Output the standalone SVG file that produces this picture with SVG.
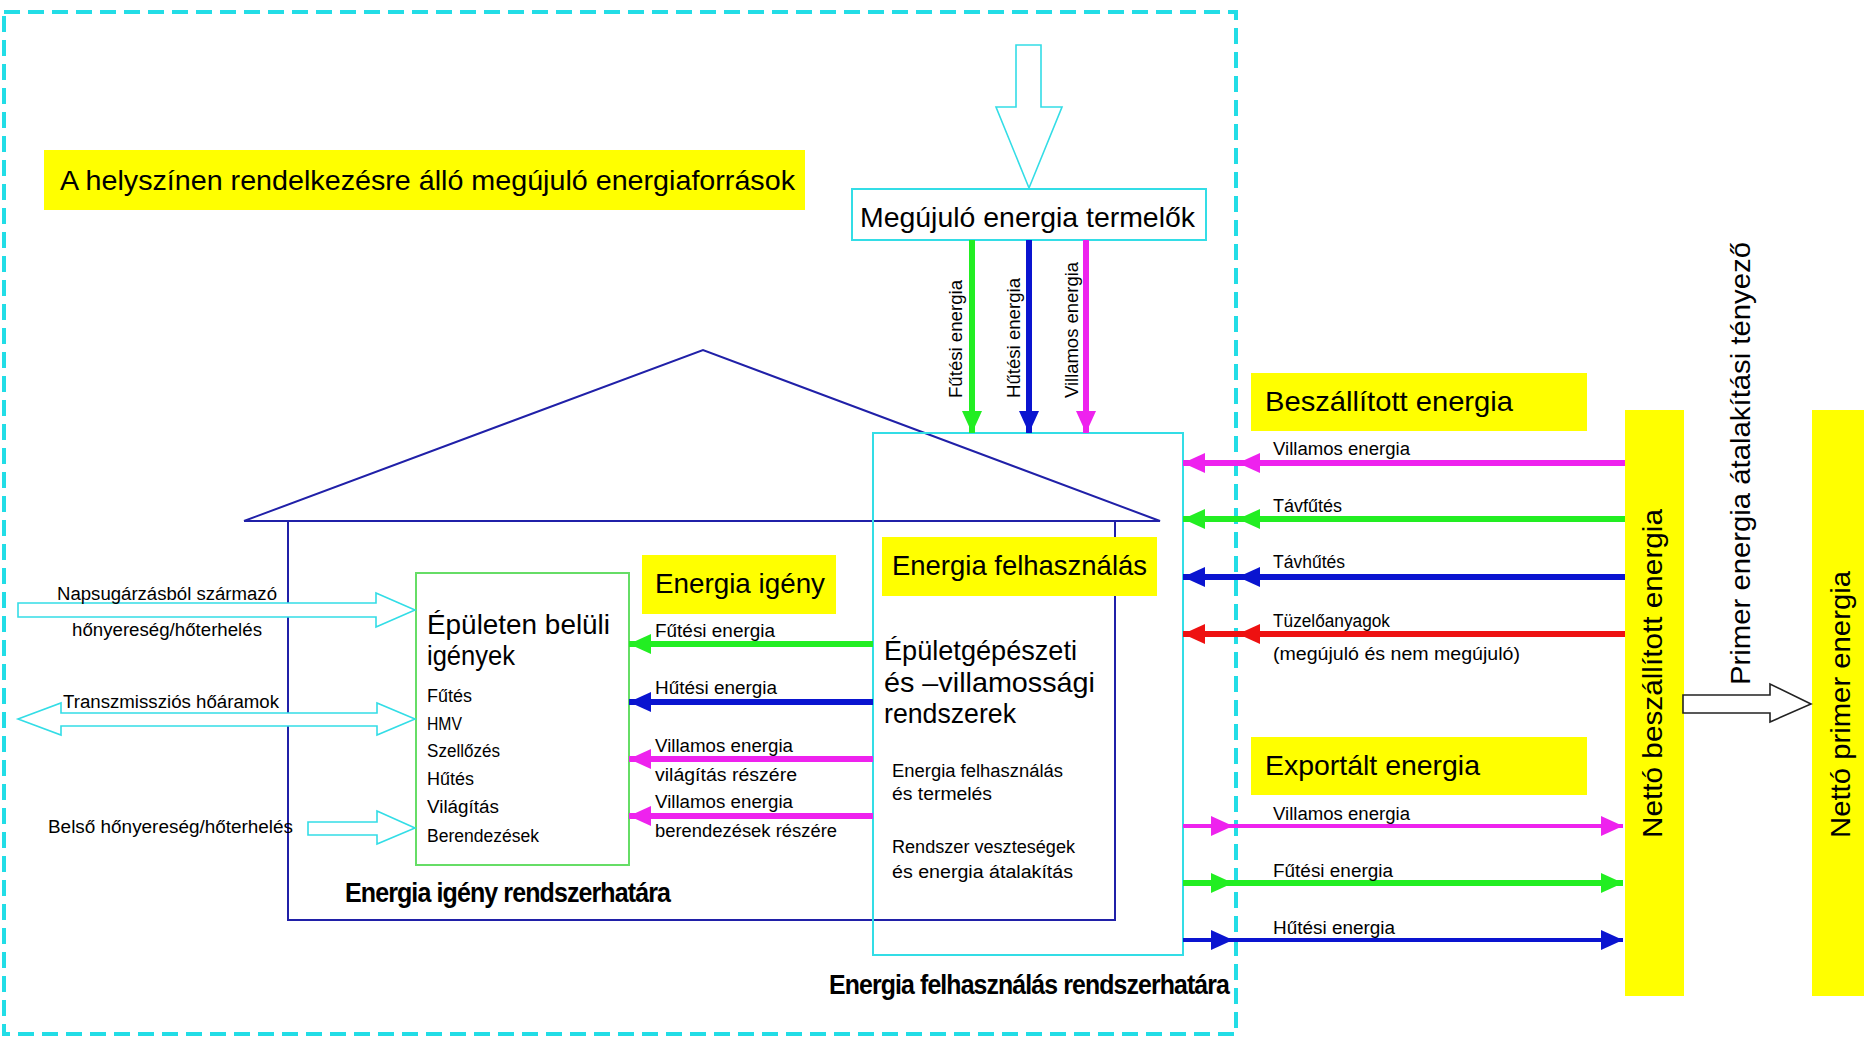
<svg xmlns="http://www.w3.org/2000/svg" width="1864" height="1038" viewBox="0 0 1864 1038">
<defs>
<style>
text{font-family:"Liberation Sans","DejaVu Sans",sans-serif;fill:#000}
.big{font-size:28px}
.sm{font-size:18px}
.bold{font-size:28px;font-weight:bold;letter-spacing:-1px}
.yel{fill:#ffff00;stroke:none}
.cy{fill:none;stroke:#33dde6;stroke-width:2}
.hollow{fill:#fff;stroke:#33dde6;stroke-width:1.6}
.house{fill:none;stroke:#2020a8;stroke-width:2}
.g{stroke:#22ee22;stroke-width:6;fill:none}
.b{stroke:#0a14d0;stroke-width:6;fill:none}
.m{stroke:#ee22ee;stroke-width:6;fill:none}
.r{stroke:#ee1111;stroke-width:6;fill:none}
</style>
<marker id="ag" viewBox="0 0 22 20" refX="22" refY="10" markerWidth="22" markerHeight="20" markerUnits="userSpaceOnUse" orient="auto"><path d="M0,0 L22,10 L0,20 z" fill="#22ee22"/></marker>
<marker id="ab" viewBox="0 0 22 20" refX="22" refY="10" markerWidth="22" markerHeight="20" markerUnits="userSpaceOnUse" orient="auto"><path d="M0,0 L22,10 L0,20 z" fill="#0a14d0"/></marker>
<marker id="am" viewBox="0 0 22 20" refX="22" refY="10" markerWidth="22" markerHeight="20" markerUnits="userSpaceOnUse" orient="auto"><path d="M0,0 L22,10 L0,20 z" fill="#ee22ee"/></marker>
<marker id="ar" viewBox="0 0 22 20" refX="22" refY="10" markerWidth="22" markerHeight="20" markerUnits="userSpaceOnUse" orient="auto"><path d="M0,0 L22,10 L0,20 z" fill="#ee1111"/></marker>
</defs>
<rect width="1864" height="1038" fill="#fff"/>

<!-- site boundary -->
<g id="site-boundary">
<rect x="4" y="12" width="1232" height="1022" fill="none" stroke="#22dde6" stroke-width="4" stroke-dasharray="16 8"/>
</g>

<g id="renewables-title">
<rect class="yel" x="44" y="150" width="761" height="60"/>
<text class="big" x="60" y="190" textLength="735" lengthAdjust="spacingAndGlyphs">A helyszínen rendelkezésre álló megújuló energiaforrások</text>
</g>

<g id="renewable-input">
<polygon class="hollow" points="1016,45 1041,45 1041,107 1062,107 1029,188 996,107 1016,107"/>
</g>

<g id="renewable-producers">
<rect class="cy" x="852" y="189" width="354" height="51"/>
<text class="big" x="860" y="227" textLength="335" lengthAdjust="spacingAndGlyphs">Megújuló energia termelők</text>
</g>

<g id="house">
<polyline class="house" points="244,521 703,350 1160,521 244,521"/>
<polyline class="house" points="288,521 288,920 1115,920 1115,521"/>
</g>

<g id="energy-use-boundary">
<rect class="cy" x="873" y="433" width="310" height="522"/>
<text class="bold" x="829" y="994" textLength="400" lengthAdjust="spacingAndGlyphs">Energia felhasználás rendszerhatára</text>
</g>

<g id="energy-use">
<rect class="yel" x="882" y="537" width="275" height="59"/>
<text class="big" x="892" y="575" textLength="255" lengthAdjust="spacingAndGlyphs">Energia felhasználás</text>
<text class="big" x="884" y="660" textLength="193" lengthAdjust="spacingAndGlyphs">Épületgépészeti</text>
<text class="big" x="884" y="692" textLength="211" lengthAdjust="spacingAndGlyphs">és –villamossági</text>
<text class="big" x="884" y="723" textLength="132" lengthAdjust="spacingAndGlyphs">rendszerek</text>
<text class="sm" x="892" y="777" textLength="171" lengthAdjust="spacingAndGlyphs">Energia felhasználás</text>
<text class="sm" x="892" y="800" textLength="100" lengthAdjust="spacingAndGlyphs">és termelés</text>
<text class="sm" x="892" y="853" textLength="183" lengthAdjust="spacingAndGlyphs">Rendszer veszteségek</text>
<text class="sm" x="892" y="878" textLength="181" lengthAdjust="spacingAndGlyphs">és energia átalakítás</text>
</g>

<g id="energy-demand">
<rect class="yel" x="642" y="555" width="194" height="59"/>
<text class="big" x="655" y="593" textLength="170" lengthAdjust="spacingAndGlyphs">Energia igény</text>
<text class="bold" x="345" y="902" textLength="325" lengthAdjust="spacingAndGlyphs">Energia igény rendszerhatára</text>
</g>

<g id="building-needs">
<rect x="416" y="573" width="213" height="292" fill="none" stroke="#66dd66" stroke-width="2"/>
<text class="big" x="427" y="634" textLength="183" lengthAdjust="spacingAndGlyphs">Épületen belüli</text>
<text class="big" x="427" y="665" textLength="88" lengthAdjust="spacingAndGlyphs">igények</text>
<text class="sm" x="427" y="702" textLength="45" lengthAdjust="spacingAndGlyphs">Fűtés</text>
<text class="sm" x="427" y="730" textLength="35" lengthAdjust="spacingAndGlyphs">HMV</text>
<text class="sm" x="427" y="757" textLength="73" lengthAdjust="spacingAndGlyphs">Szellőzés</text>
<text class="sm" x="427" y="785" textLength="47" lengthAdjust="spacingAndGlyphs">Hűtés</text>
<text class="sm" x="427" y="813" textLength="72" lengthAdjust="spacingAndGlyphs">Világítás</text>
<text class="sm" x="427" y="842" textLength="112" lengthAdjust="spacingAndGlyphs">Berendezések</text>
</g>

<g id="delivered-title">
<rect class="yel" x="1251" y="373" width="336" height="58"/>
<text class="big" x="1265" y="411" textLength="248" lengthAdjust="spacingAndGlyphs">Beszállított energia</text>
</g>

<g id="exported-title">
<rect class="yel" x="1251" y="737" width="336" height="58"/>
<text class="big" x="1265" y="775" textLength="215" lengthAdjust="spacingAndGlyphs">Exportált energia</text>
</g>

<g id="net-delivered">
<rect class="yel" x="1625" y="410" width="59" height="586"/>
<text class="big" transform="translate(1662,838) rotate(-90)" textLength="329" lengthAdjust="spacingAndGlyphs">Nettó beszállított energia</text>
</g>

<g id="net-primary">
<rect class="yel" x="1812" y="410" width="52" height="586"/>
<text class="big" transform="translate(1850,838) rotate(-90)" textLength="267" lengthAdjust="spacingAndGlyphs">Nettó primer energia</text>
</g>

<g id="primary-factor">
<polygon points="1683,695 1770,695 1770,684 1811,704 1770,722 1770,713 1683,713" fill="#fff" stroke="#222" stroke-width="1.6"/>
<text class="big" transform="translate(1750,685) rotate(-90)" textLength="443" lengthAdjust="spacingAndGlyphs">Primer energia átalakítási tényező</text>
</g>

<g id="connectors">
<!-- environment hollow arrows -->
<polygon class="hollow" points="18,603 376,603 376,593 415,610 376,627 376,617 18,617"/>
<polygon class="hollow" points="18,719 61,703 61,713 377,713 377,703 415,719 377,735 377,726 61,726 61,735"/>
<polygon class="hollow" points="308,822 377,822 377,811 415,828 377,844 377,835 308,835"/>
<text class="sm" x="57" y="600" textLength="220" lengthAdjust="spacingAndGlyphs">Napsugárzásból származó</text>
<text class="sm" x="72" y="636" textLength="190" lengthAdjust="spacingAndGlyphs">hőnyereség/hőterhelés</text>
<text class="sm" x="63" y="708" textLength="216" lengthAdjust="spacingAndGlyphs">Transzmissziós hőáramok</text>
<text class="sm" x="48" y="833" textLength="245" lengthAdjust="spacingAndGlyphs">Belső hőnyereség/hőterhelés</text>

<!-- renewable producers to energy use -->
<path class="g" d="M972,240 V433" marker-end="url(#ag)"/>
<path class="b" d="M1029,240 V433" marker-end="url(#ab)"/>
<path class="m" d="M1086,240 V433" marker-end="url(#am)"/>
<text class="sm" transform="translate(962,398) rotate(-90)" textLength="118" lengthAdjust="spacingAndGlyphs">Fűtési energia</text>
<text class="sm" transform="translate(1020,398) rotate(-90)" textLength="120" lengthAdjust="spacingAndGlyphs">Hűtési energia</text>
<text class="sm" transform="translate(1078,398) rotate(-90)" textLength="136" lengthAdjust="spacingAndGlyphs">Villamos energia</text>

<!-- energy use to building needs -->
<path class="g" d="M873,644 H629" marker-end="url(#ag)"/>
<path class="b" d="M873,702 H629" marker-end="url(#ab)"/>
<path class="m" d="M873,759 H629" marker-end="url(#am)"/>
<path class="m" d="M873,816 H629" marker-end="url(#am)"/>
<text class="sm" x="655" y="637" textLength="120" lengthAdjust="spacingAndGlyphs">Fűtési energia</text>
<text class="sm" x="655" y="694" textLength="122" lengthAdjust="spacingAndGlyphs">Hűtési energia</text>
<text class="sm" x="655" y="752" textLength="138" lengthAdjust="spacingAndGlyphs">Villamos energia</text>
<text class="sm" x="655" y="781" textLength="142" lengthAdjust="spacingAndGlyphs">világítás részére</text>
<text class="sm" x="655" y="808" textLength="138" lengthAdjust="spacingAndGlyphs">Villamos energia</text>
<text class="sm" x="655" y="837" textLength="182" lengthAdjust="spacingAndGlyphs">berendezések részére</text>

<!-- delivered energy -->
<path class="m" d="M1625,463 L1238,463 L1183,463" marker-mid="url(#am)" marker-end="url(#am)"/>
<path class="g" d="M1625,519 L1238,519 L1183,519" marker-mid="url(#ag)" marker-end="url(#ag)"/>
<path class="b" d="M1625,577 L1238,577 L1183,577" marker-mid="url(#ab)" marker-end="url(#ab)"/>
<path class="r" d="M1625,634 L1238,634 L1183,634" marker-mid="url(#ar)" marker-end="url(#ar)"/>
<text class="sm" x="1273" y="455" textLength="137" lengthAdjust="spacingAndGlyphs">Villamos energia</text>
<text class="sm" x="1273" y="512" textLength="69" lengthAdjust="spacingAndGlyphs">Távfűtés</text>
<text class="sm" x="1273" y="568" textLength="72" lengthAdjust="spacingAndGlyphs">Távhűtés</text>
<text class="sm" x="1273" y="627" textLength="117" lengthAdjust="spacingAndGlyphs">Tüzelőanyagok</text>
<text class="sm" x="1273" y="660" textLength="247" lengthAdjust="spacingAndGlyphs">(megújuló és nem megújuló)</text>

<!-- exported energy -->
<path class="m" style="stroke-width:4" d="M1183,826 L1233,826 L1623,826" marker-mid="url(#am)" marker-end="url(#am)"/>
<path class="g" d="M1183,883 L1233,883 L1623,883" marker-mid="url(#ag)" marker-end="url(#ag)"/>
<path class="b" style="stroke-width:4" d="M1183,940 L1233,940 L1623,940" marker-mid="url(#ab)" marker-end="url(#ab)"/>
<text class="sm" x="1273" y="820" textLength="137" lengthAdjust="spacingAndGlyphs">Villamos energia</text>
<text class="sm" x="1273" y="877" textLength="120" lengthAdjust="spacingAndGlyphs">Fűtési energia</text>
<text class="sm" x="1273" y="934" textLength="122" lengthAdjust="spacingAndGlyphs">Hűtési energia</text>
</g>
</svg>
